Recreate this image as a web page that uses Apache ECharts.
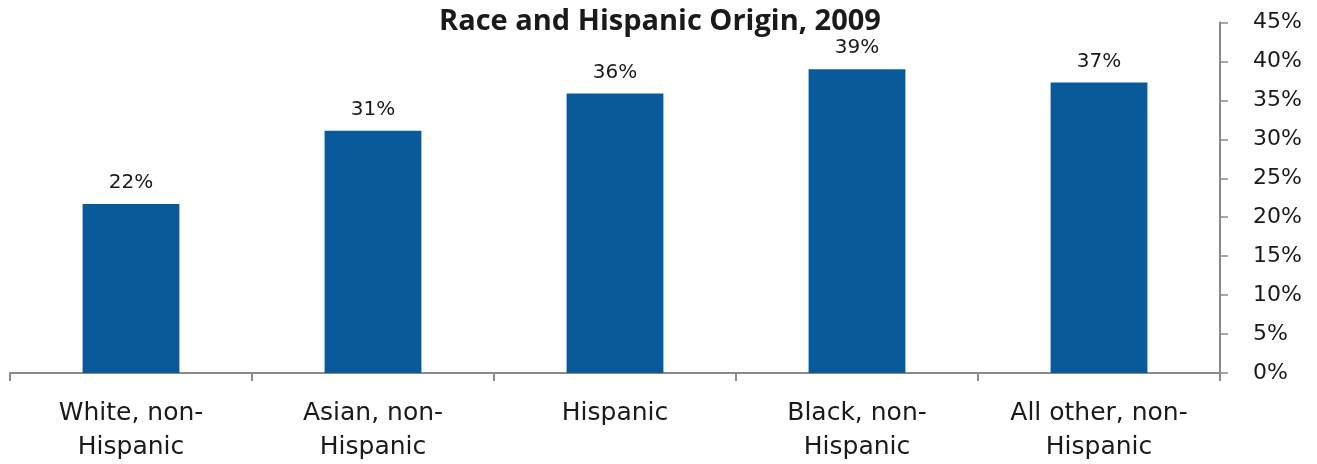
<!DOCTYPE html>
<html>
<head>
<meta charset="utf-8">
<script src="https://cdn.jsdelivr.net/npm/echarts@6/dist/echarts.min.js"></script>
<style>
html,body{margin:0;padding:0;background:#fff;}
#chart{width:1317px;height:464px;}
</style>
</head>
<body>
<div id="chart"></div>
<script>
const titleText = 'Race and Hispanic Origin, 2009';
const categories = ['White, non-\nHispanic', 'Asian, non-\nHispanic', 'Hispanic', 'Black, non-\nHispanic', 'All other, non-\nHispanic'];
const values = [21.7, 31.1, 35.9, 39.0, 37.3];
const valueLabels = ['22%', '31%', '36%', '39%', '37%'];
const yTicks = [0, 5, 10, 15, 20, 25, 30, 35, 40, 45];

const chart = echarts.init(document.getElementById('chart'), null, {renderer: 'canvas'});
chart.setOption({
  animation: false,
  backgroundColor: '#ffffff',
  title: {
    text: titleText,
    left: 434,
    top: 2,
    textStyle: {fontFamily: 'Open Sans', fontWeight: 'bold', fontSize: 29, color: '#1a1a1a'}
  },
  grid: {left: 10, right: 97, top: 22.5, bottom: 91, containLabel: false},
  xAxis: {
    type: 'category',
    data: categories,
    axisLine: {lineStyle: {color: '#8a8a8a', width: 2}},
    axisTick: {show: true, length: 8, lineStyle: {color: '#8a8a8a', width: 2}},
    axisLabel: {
      interval: 0,
      margin: 23,
      fontFamily: 'DejaVu Sans',
      fontSize: 25,
      lineHeight: 34,
      color: '#1a1a1a'
    }
  },
  yAxis: {
    type: 'value',
    position: 'right',
    min: yTicks[0],
    max: yTicks[yTicks.length - 1],
    interval: yTicks[1] - yTicks[0],
    axisLine: {show: true, lineStyle: {color: '#8a8a8a', width: 2}},
    axisTick: {show: true, length: 8, lineStyle: {color: '#8a8a8a', width: 1.5}},
    splitLine: {show: false},
    axisLabel: {
      margin: 33,
      formatter: '{value}%',
      fontFamily: 'DejaVu Sans',
      fontSize: 22,
      color: '#1a1a1a'
    }
  },
  series: [{
    type: 'bar',
    data: values,
    barWidth: '40%',
    itemStyle: {color: '#085A9A'},
    label: {
      show: true,
      position: 'top',
      distance: 11,
      formatter: p => valueLabels[p.dataIndex],
      fontFamily: 'DejaVu Sans',
      fontSize: 20,
      color: '#1a1a1a'
    }
  }]
});
</script>
</body>
</html>
